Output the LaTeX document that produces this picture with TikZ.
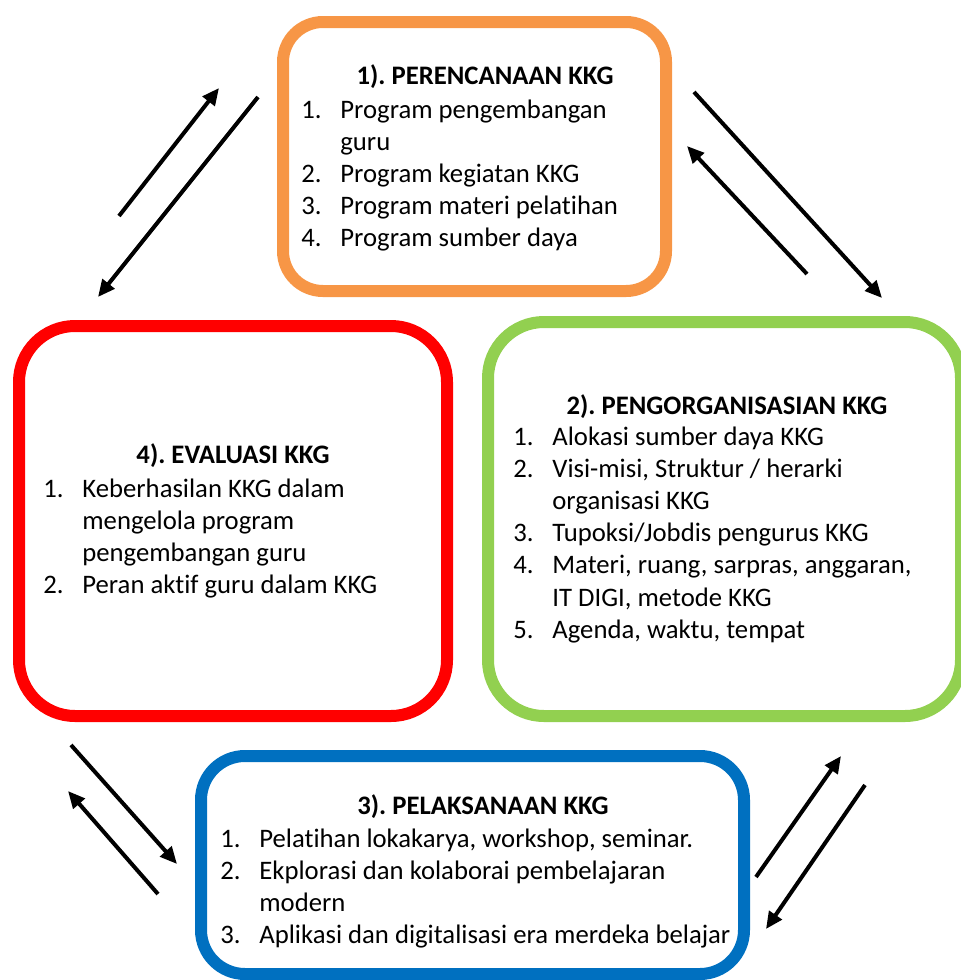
\documentclass[tikz,border=0pt]{standalone}
\usepackage{fontspec}
\setmainfont{Carlito}[Ligatures=NoCommon]
\frenchspacing
\usetikzlibrary{arrows.meta,positioning}
\definecolor{planorange}{HTML}{F79646}
\definecolor{orggreen}{HTML}{92D050}
\definecolor{evalred}{HTML}{FF0000}
\definecolor{execblue}{HTML}{0070C0}
\newcommand{\kkgfont}{\fontsize{13.35}{16.1}\selectfont}
\newcommand{\itemno}[1]{\makebox[19.5pt][l]{#1}}
\tikzstyle{stage}=[draw,line width=6pt,rounded corners=22pt]
\tikzstyle{heading}=[inner sep=0pt,anchor=base,font=\kkgfont\bfseries]
\tikzstyle{items}=[inner sep=0pt,anchor=base west,font=\kkgfont]
\tikzstyle{flow}=[line width=2pt,-{Triangle[length=8.5pt,width=7.5pt]}]

\begin{document}
\begin{tikzpicture}[x=0.5pt,y=-0.5pt]
\useasboundingbox (0,0) rectangle (960,980);

% the four stages
\node[stage,draw=planorange,minimum width=191.5pt,minimum height=134.5pt,rounded corners=20pt] (plan) at (474.5,156.5) {};
\node[stage,draw=orggreen,minimum width=236.5pt,minimum height=197pt,rounded corners=28pt] (org) at (724.5,519) {};
\node[stage,draw=evalred,minimum width=214pt,minimum height=195pt,rounded corners=28pt] (eval) at (233,521) {};
\node[stage,draw=execblue,minimum width=271.5pt,minimum height=109pt] (exec) at (472.5,865) {};

% texts
\node[heading] (planT) at (485,84) {1). PERENCANAAN KKG};
\node[items] (planL) at (301,118) {\begin{tabular}[t]{@{}l@{}}
\itemno{1.}Program pengembangan\\
\itemno{}guru\\
\itemno{2.}Program kegiatan KKG\\
\itemno{3.}Program materi pelatihan\\
\itemno{4.}Program sumber daya
\end{tabular}};

\node[heading] (orgT) at (727,414) {2). PENGORGANISASIAN KKG};
\node[items] (orgL) at (513,445) {\begin{tabular}[t]{@{}l@{}}
\itemno{1.}Alokasi sumber daya KKG\\
\itemno{2.}Visi-misi, Struktur / herarki\\
\itemno{}organisasi KKG\\
\itemno{3.}Tupoksi/Jobdis pengurus KKG\\
\itemno{4.}Materi, ruang, sarpras, anggaran,\\
\itemno{}IT DIGI, metode KKG\\
\itemno{5.}Agenda, waktu, tempat
\end{tabular}};

\node[heading] (evalT) at (233,463) {4). EVALUASI KKG};
\node[items] (evalL) at (43,497) {\begin{tabular}[t]{@{}l@{}}
\itemno{1.}Keberhasilan KKG dalam\\
\itemno{}mengelola program\\
\itemno{}pengembangan guru\\
\itemno{2.}Peran aktif guru dalam KKG
\end{tabular}};

\node[heading] (execT) at (483,814) {3). PELAKSANAAN KKG};
\node[items] (execL) at (220,847) {\begin{tabular}[t]{@{}l@{}}
\itemno{1.}Pelatihan lokakarya, workshop, seminar.\\
\itemno{2.}Ekplorasi dan kolaborai pembelajaran\\
\itemno{}modern\\
\itemno{3.}Aplikasi dan digitalisasi era merdeka belajar
\end{tabular}};

% arrow ends
\coordinate (s1) at (119,216); \coordinate (t1) at (219,88);
\coordinate (s2) at (258,97);  \coordinate (t2) at (98,297);
\coordinate (s3) at (694,92);  \coordinate (t3) at (882,298);
\coordinate (s4) at (807,274); \coordinate (t4) at (687,146);
\coordinate (s5) at (71,745);  \coordinate (t5) at (177,864);
\coordinate (s6) at (158,894); \coordinate (t6) at (68,791);
\coordinate (s7) at (756,877); \coordinate (t7) at (841,756);
\coordinate (s8) at (865,785); \coordinate (t8) at (766,929);
\foreach \a in {1,...,8}
  \draw[flow] (s\a) -- (t\a);

\end{tikzpicture}
\end{document}
